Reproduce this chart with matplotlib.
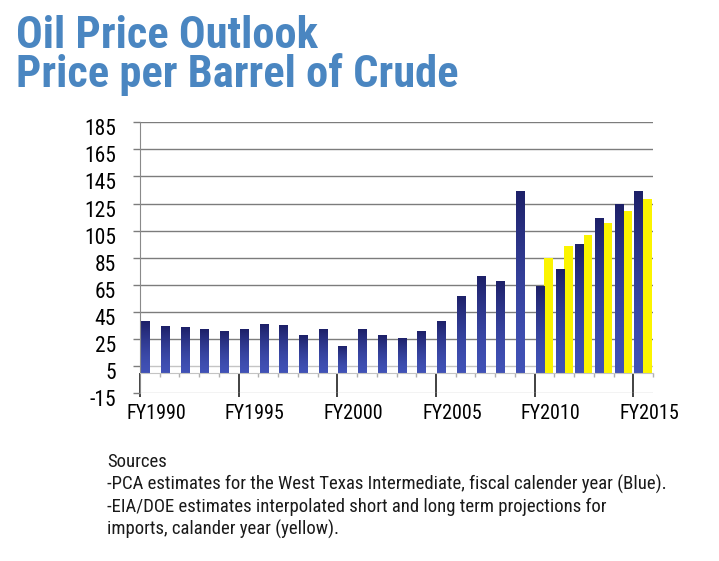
import numpy as np
import matplotlib
matplotlib.use("Agg")
import matplotlib.pyplot as plt
import matplotlib.transforms as mtransforms
from matplotlib import font_manager
from matplotlib.colors import LinearSegmentedColormap

# ===== data =====
years = list(range(1990, 2016))
blue_vals = [38, 34.5, 33.5, 32, 31, 32.5, 36, 35, 28, 32.5,
             20, 32, 28, 26, 31, 38.5, 57, 71.5, 68, 134.5,
             64, 76.5, 95, 114, 125, 134]
yellow_years = list(range(2010, 2016))
yellow_vals = [85, 93.5, 102, 110.5, 119.5, 128]

yticks = list(range(-15, 186, 20))
label_years = [1990, 1995, 2000, 2005, 2010, 2015]
title_lines = ["Oil Price Outlook", "Price per Barrel of Crude"]
source_lines = [
    "Sources",
    "-PCA estimates for the West Texas Intermediate, fiscal calender year (Blue).",
    "-EIA/DOE estimates interpolated short and long term projections for",
    "imports, calander year (yellow).",
]

# helvetica-condensed look-alike: first one that is installed
names = {f.name for f in font_manager.fontManager.ttflist}
wanted = ["Roboto Condensed", "Archivo Narrow", "PT Sans Narrow",
          "Liberation Sans Narrow", "Fira Sans Condensed",
          "IBM Plex Sans Condensed", "Open Sans Condensed", "Barlow Semi Condensed"]
NARROW = next((n for n in wanted if n in names), "DejaVu Sans")
plt.rcParams["font.family"] = [NARROW, "DejaVu Sans"]
plt.rcParams["axes.unicode_minus"] = False

TITLE_C = "#4a86c1"
BLUE_TOP, BLUE_BOT = "#1d2068", "#4152b6"
YELLOW = "#fbf400"

W, H = 719, 561
fig = plt.figure(figsize=(W / 100, H / 100), dpi=100)
ax = fig.add_axes([140 / W, 1 - 393 / H, 513 / W, (393 - 122.3) / H])

# --- bars ---
blue = ax.bar([y + 0.06 for y in years], blue_vals, width=0.44, align="edge",
              color=BLUE_BOT, zorder=2, lw=0)
ax.bar([y + 0.5 for y in yellow_years], yellow_vals, width=0.43, align="edge",
       color=YELLOW, zorder=2, lw=0)

# vertical gradient on the blue bars (dark top -> lighter bottom)
cmap = LinearSegmentedColormap.from_list("navy", [BLUE_BOT, BLUE_TOP])
grad = np.linspace(1, 0, 128).reshape(-1, 1) ** 1.5
for p in blue.patches:
    x0, y0 = p.get_x(), p.get_y()
    im = ax.imshow(grad, cmap=cmap, aspect="auto", origin="upper", zorder=2.1,
                   extent=(x0, x0 + p.get_width(), y0, y0 + p.get_height()))
    im.set_clip_path(p)

ax.set_xlim(1990, 2016)
ax.set_ylim(-15, 185)

# --- grid / axes ---
ax.set_axisbelow(True)
ax.set_yticks(yticks)
ax.yaxis.grid(True, color="#7c7c7c", lw=1.0)
for gl, v in zip(ax.get_ygridlines(), yticks):
    if v in (-15, 5):
        gl.set_color("#c4c4c4")
ax.tick_params(axis="y", length=4.8, width=1.0, color="#7c7c7c", pad=12.5,
               labelsize=15.5)
off = mtransforms.ScaledTranslation(0, -0.05, fig.dpi_scale_trans)
for lab in ax.get_yticklabels():
    lab.set_transform(lab.get_transform() + off)

for s in ("top", "right"):
    ax.spines[s].set_visible(False)
ax.spines["left"].set_color("#8a8a8a")
ax.spines["bottom"].set_position(("data", 0))
ax.spines["bottom"].set_color("#c4c4c4")

ax.set_xticks(label_years)
ax.set_xticks(years + [2016], minor=True)
ax.tick_params(axis="x", which="major", length=17.3, width=1.3, color="#333333",
               labelsize=14.5, pad=5)
ax.tick_params(axis="x", which="minor", length=3, width=1.0, color="#b0b0b0")
ax.set_xticklabels([f"FY{y}" for y in label_years])
offx = mtransforms.ScaledTranslation(0.16, 0, fig.dpi_scale_trans)
for lab in ax.get_xticklabels():
    lab.set_transform(lab.get_transform() + offx)

# --- titles ---
fig.text(16 / W, 1 - 47.7 / H, title_lines[0], fontsize=32, fontweight="bold",
         color=TITLE_C, va="baseline")
fig.text(16 / W, 1 - 87.3 / H, title_lines[1], fontsize=32, fontweight="bold",
         color=TITLE_C, va="baseline")

# --- sources block ---
for line, base in zip(source_lines, [467, 489.5, 512, 534.5]):
    fig.text(107 / W, 1 - base / H, line, fontsize=13.5, color="#1a1a1a",
             va="baseline")

fig.savefig("out.png", dpi=100)
